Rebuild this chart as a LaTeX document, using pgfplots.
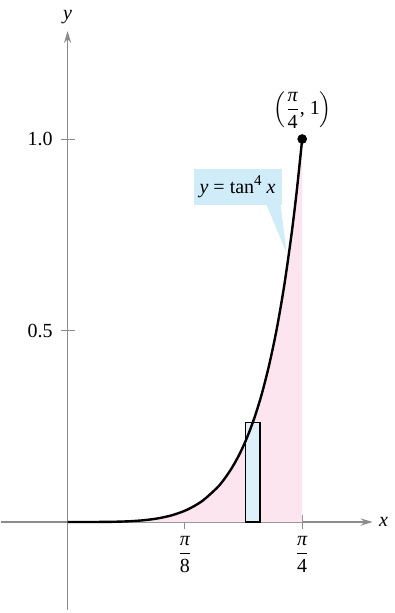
\documentclass[border=0pt]{standalone}
\usepackage{amsmath}
\usepackage{fontspec}
\setmainfont{Liberation Serif}
\usepackage{pgfplots}
\pgfplotsset{compat=1.18}
\usetikzlibrary{arrows.meta}
\definecolor{axgray}{RGB}{140,140,140}
\definecolor{areapink}{RGB}{252,229,239}
\definecolor{rectblue}{RGB}{222,241,251}
\definecolor{callblue}{RGB}{208,236,249}
\begin{document}
\fontsize{10}{12}\selectfont
\begin{tikzpicture}
\begin{axis}[
  x=149.35pt, y=191.5pt,
  xmin=-0.2243, xmax=1.0211, ymin=-0.2298, ymax=1.282,
  enlargelimits=false,
  axis lines=middle,
  clip=false,
  axis line style={draw=axgray, line width=0.6pt, -{Stealth[length=6pt,width=3.6pt]}},
  tick style={draw=axgray, line width=0.5pt},
  major tick length=7pt,
  tick align=center,
  xtick={0.392699,0.785398},
  xticklabels={{$\dfrac{\mbox{\itshape π}}{\mbox{8}}$},{$\dfrac{\mbox{\itshape π}}{\mbox{4}}$}},
  ytick={0.5,1.0},
  yticklabels={0.5,1.0},
  yticklabel style={xshift=-0.5pt},
  /pgf/number format/assume math mode=true,
]
\addplot[fill=areapink, draw=none] coordinates {
(0,0)(0.05,0.0000063)(0.1,0.0001013)(0.15,0.0005218)(0.2,0.0016885)(0.25,0.004251)(0.3,0.009156)(0.35,0.017754)(0.4,0.031953)(0.45,0.054448)(0.5,0.089070)(0.525,0.11255)(0.55,0.141299)(0.575,0.17635)(0.6,0.219064)(0.625,0.27095)(0.65,0.33398)(0.675,0.41079)(0.7,0.503318)(0.725,0.61601)(0.75,0.753200)(0.7675,0.86654)(0.785398,1)
} \closedcycle;
\addplot[fill=rectblue, draw=black, line width=0.6pt] coordinates {
(0.595,0)(0.595,0.26)(0.644,0.26)(0.644,0)} -- cycle;
\addplot[black, line width=1.2pt, smooth] coordinates {
(0,0)(0.05,0.0000063)(0.1,0.0001013)(0.15,0.0005218)(0.2,0.0016885)(0.25,0.004251)(0.3,0.009156)(0.35,0.017754)(0.4,0.031953)(0.45,0.054448)(0.5,0.089070)(0.525,0.11255)(0.55,0.141299)(0.575,0.17635)(0.6,0.219064)(0.625,0.27095)(0.65,0.33398)(0.675,0.41079)(0.7,0.503318)(0.725,0.61601)(0.75,0.753200)(0.7675,0.86654)(0.785398,1)
};
\addplot[only marks, mark=*, mark size=2.2pt, black] coordinates {(0.785398,1)};
% callout
\fill[callblue] (axis cs:0.6662,0.8277) -- (axis cs:0.7332,0.7023) -- (axis cs:0.7131,0.8277) -- cycle;
\fill[callblue] (axis cs:0.4218,0.8277) rectangle (axis cs:0.7164,0.9217);
\node at (axis cs:0.5691,0.8747) {\textit{y} = tan\raisebox{0.85ex}{\fontsize{7.5}{8}\selectfont 4} \textit{x}};
\node at (axis cs:0.7867,1.0757) {$\left(\dfrac{\mbox{\itshape π}}{\mbox{4}}\mbox{, 1}\right)$};
\node at (axis cs:1.058,0) {\textit{x}};
\node at (axis cs:0,1.3185) {\textit{y}};
\path (axis cs:-0.2243,-0.2376) rectangle (axis cs:1.0780,1.363);
\end{axis}
\end{tikzpicture}
\end{document}
